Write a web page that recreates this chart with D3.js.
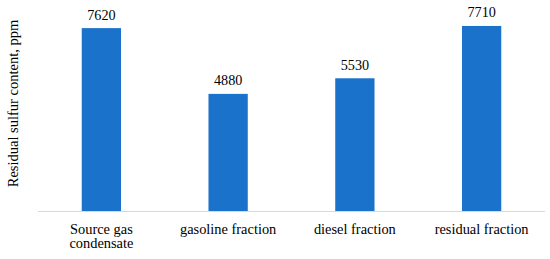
<!DOCTYPE html>
<html><head><meta charset="utf-8">
<script src="https://cdn.jsdelivr.net/npm/d3@7"></script>
<style>body{margin:0;background:#fff;} svg{display:block;}</style>
</head><body>
<script>
const categories = ["Source gas condensate", "gasoline fraction", "diesel fraction", "residual fraction"];
const categoryLines = [["Source gas", "condensate"], ["gasoline fraction"], ["diesel fraction"], ["residual fraction"]];
const values = [7620, 4880, 5530, 7710];
const yTitle = "Residual sulfur content, ppm";

const W = 550, H = 259;
const margin = {left: 38, right: 5, top: 19, bottom: 48};
const svg = d3.select("body").append("svg").attr("width", W).attr("height", H);
const font = "Liberation Serif, Times New Roman, serif";

const x = d3.scaleBand().domain(categories).range([margin.left, W - margin.right])
  .paddingInner(0.69).paddingOuter(0.345);
const y = d3.scaleLinear().domain([0, 8000]).range([H - margin.bottom, margin.top]);

svg.append("g").selectAll("rect").data(values).join("rect")
  .attr("x", (d, i) => x(categories[i]))
  .attr("width", x.bandwidth())
  .attr("y", d => y(d))
  .attr("height", d => y(0) - y(d))
  .attr("fill", "#1a72cb");

svg.append("line")
  .attr("x1", margin.left).attr("x2", W - margin.right)
  .attr("y1", y(0) + 0.5).attr("y2", y(0) + 0.5)
  .attr("stroke", "#d9d9d9").attr("stroke-width", 1);

svg.append("g").selectAll("text").data(values).join("text")
  .attr("x", (d, i) => x(categories[i]) + x.bandwidth() / 2)
  .attr("y", d => y(d) - 8.5)
  .attr("text-anchor", "middle")
  .attr("font-family", font).attr("font-size", 14.2).attr("fill", "#000")
  .text(d => d);

const lab = svg.append("g").selectAll("text").data(categories).join("text")
  .attr("x", d => x(d) + x.bandwidth() / 2)
  .attr("y", 234)
  .attr("text-anchor", "middle")
  .attr("font-family", font).attr("font-size", 14.4).attr("fill", "#000");
lab.each(function(d, i) {
  const t = d3.select(this);
  categoryLines[i].forEach((line, j) => {
    t.append("tspan").attr("x", x(d) + x.bandwidth() / 2).attr("dy", j === 0 ? 0 : 14).text(line);
  });
});

svg.append("text")
  .attr("transform", "translate(18,103.5) rotate(-90)")
  .attr("text-anchor", "middle")
  .attr("font-family", font).attr("font-size", 14.5).attr("fill", "#000")
  .text(yTitle);
</script>
</body></html>
